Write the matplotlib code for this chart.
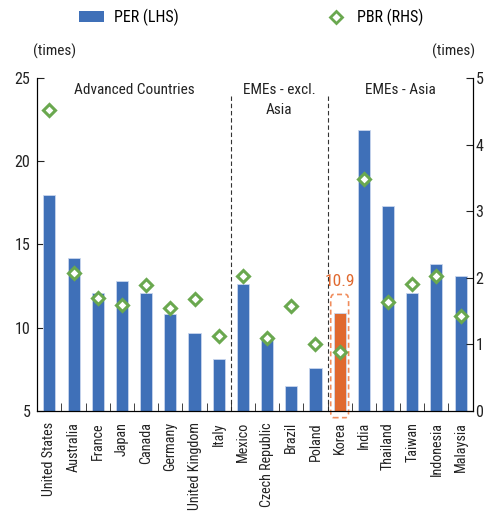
import matplotlib
matplotlib.use("Agg")
import matplotlib.pyplot as plt
from matplotlib.patches import FancyBboxPatch
from matplotlib.lines import Line2D
from matplotlib.patches import Patch
import numpy as np

plt.rcParams['font.family'] = ['Roboto Condensed', 'Liberation Sans', 'DejaVu Sans']

countries = ["United States", "Australia", "France", "Japan", "Canada", "Germany",
             "United Kingdom", "Italy", "Mexico", "Czech Republic", "Brazil", "Poland",
             "Korea", "India", "Thailand", "Taiwan", "Indonesia", "Malaysia"]
per = [18.0, 14.2, 12.1, 12.8, 12.1, 10.8, 9.7, 8.1, 12.6, 9.5, 6.5, 7.6,
       10.9, 21.9, 17.3, 12.1, 13.8, 13.1]
pbr = [4.52, 2.07, 1.70, 1.59, 1.89, 1.55, 1.68, 1.12, 2.02, 1.10, 1.57, 1.00,
       0.89, 3.49, 1.64, 1.90, 2.03, 1.43]
groups = ["Advanced Countries", "EMEs - excl.\nAsia", "EMEs - Asia"]
group_bounds = [(0, 7), (8, 11), (12, 17)]
highlight = "Korea"

blue = "#3F70B8"
orange = "#E0692F"
green = "#6AA84F"
ink = "#222222"

fig = plt.figure(figsize=(4.87, 5.11), dpi=100)
ax = fig.add_axes([0.0766, 0.1957, 0.894, 0.6517])
ax2 = ax.twinx()

x = np.arange(len(countries))
colors = [orange if c == highlight else blue for c in countries]
ax.bar(x, np.array(per) - 5, bottom=5, width=0.5, color=colors,
       edgecolor="#c9d6ee", linewidth=0.6, zorder=2)
ax2.plot(x, pbr, linestyle="none", marker="D", markersize=6.5,
         markerfacecolor="white", markeredgecolor=green, markeredgewidth=2.2, zorder=3)

ax.set_ylim(5, 25)
ax2.set_ylim(0, 5)
ax.set_xlim(-0.5, len(countries) - 0.5)
ax.set_yticks([5, 10, 15, 20, 25])
ax2.set_yticks([0, 1, 2, 3, 4, 5])

for a in (ax, ax2):
    a.spines['top'].set_visible(False)
    a.patch.set_visible(False)
ax.tick_params(axis='y', direction='in', length=5, labelsize=11.5, pad=5, colors=ink)
ax2.tick_params(axis='y', direction='in', length=5, labelsize=11.5, pad=2, colors=ink)
ax.set_xticks(x)
ax.set_xticklabels(countries, rotation=90, fontsize=10.2, color=ink)
ax.tick_params(axis='x', length=0, pad=8)
ax.set_xticks(np.arange(0.5, len(countries) - 1, 1.0), minor=True)
ax.tick_params(axis='x', which='minor', direction='in', length=6, color=ink)

# group separators and titles
for lo, hi in group_bounds[:-1]:
    ax.plot([hi + 0.5, hi + 0.5], [5, 24.0], color="#333333", lw=0.8,
            linestyle=(0, (4, 2.5)), zorder=1)
for (lo, hi), name in zip(group_bounds, groups):
    ax.text((lo + hi) / 2, 24.72, name, ha="center", va="top", fontsize=11,
            color=ink, linespacing=1.55)

# highlighted bar: dashed frame and value label
ki = countries.index(highlight)
kv = per[ki]
box = FancyBboxPatch((ki - 0.37, 4.6), 0.74, kv - 5 + 1.5,
                     boxstyle="round,pad=0,rounding_size=0.12",
                     fill=False, edgecolor="#F08C5C", linewidth=1.2,
                     linestyle=(0, (3, 2)), clip_on=False, zorder=4,
                     mutation_aspect=3)
ax.add_patch(box)
ax.text(ki, kv + 1.6, f"{kv}", ha="center", va="baseline", color=orange, fontsize=12.5)

# axis unit labels
fig.text(0.068, 0.9, "(times)", ha="left", va="center", fontsize=11, color=ink)
fig.text(0.975, 0.9, "(times)", ha="right", va="center", fontsize=11, color=ink)

# legend
handles = [Patch(facecolor=blue, edgecolor="none"),
           Line2D([], [], linestyle="none", marker="D", markersize=6,
                  markerfacecolor="white", markeredgecolor=green, markeredgewidth=2)]
fig.legend(handles[:1], ["PER (LHS)"], loc="center left", bbox_to_anchor=(0.132, 0.966),
           frameon=False, fontsize=11.5, handlelength=1.6, handleheight=0.7, handletextpad=0.6)
fig.legend(handles[1:], ["PBR (RHS)"], loc="center left", bbox_to_anchor=(0.645, 0.966),
           frameon=False, fontsize=11.5, handlelength=1.0, handletextpad=0.8)

fig.savefig("out.png", dpi=100)
